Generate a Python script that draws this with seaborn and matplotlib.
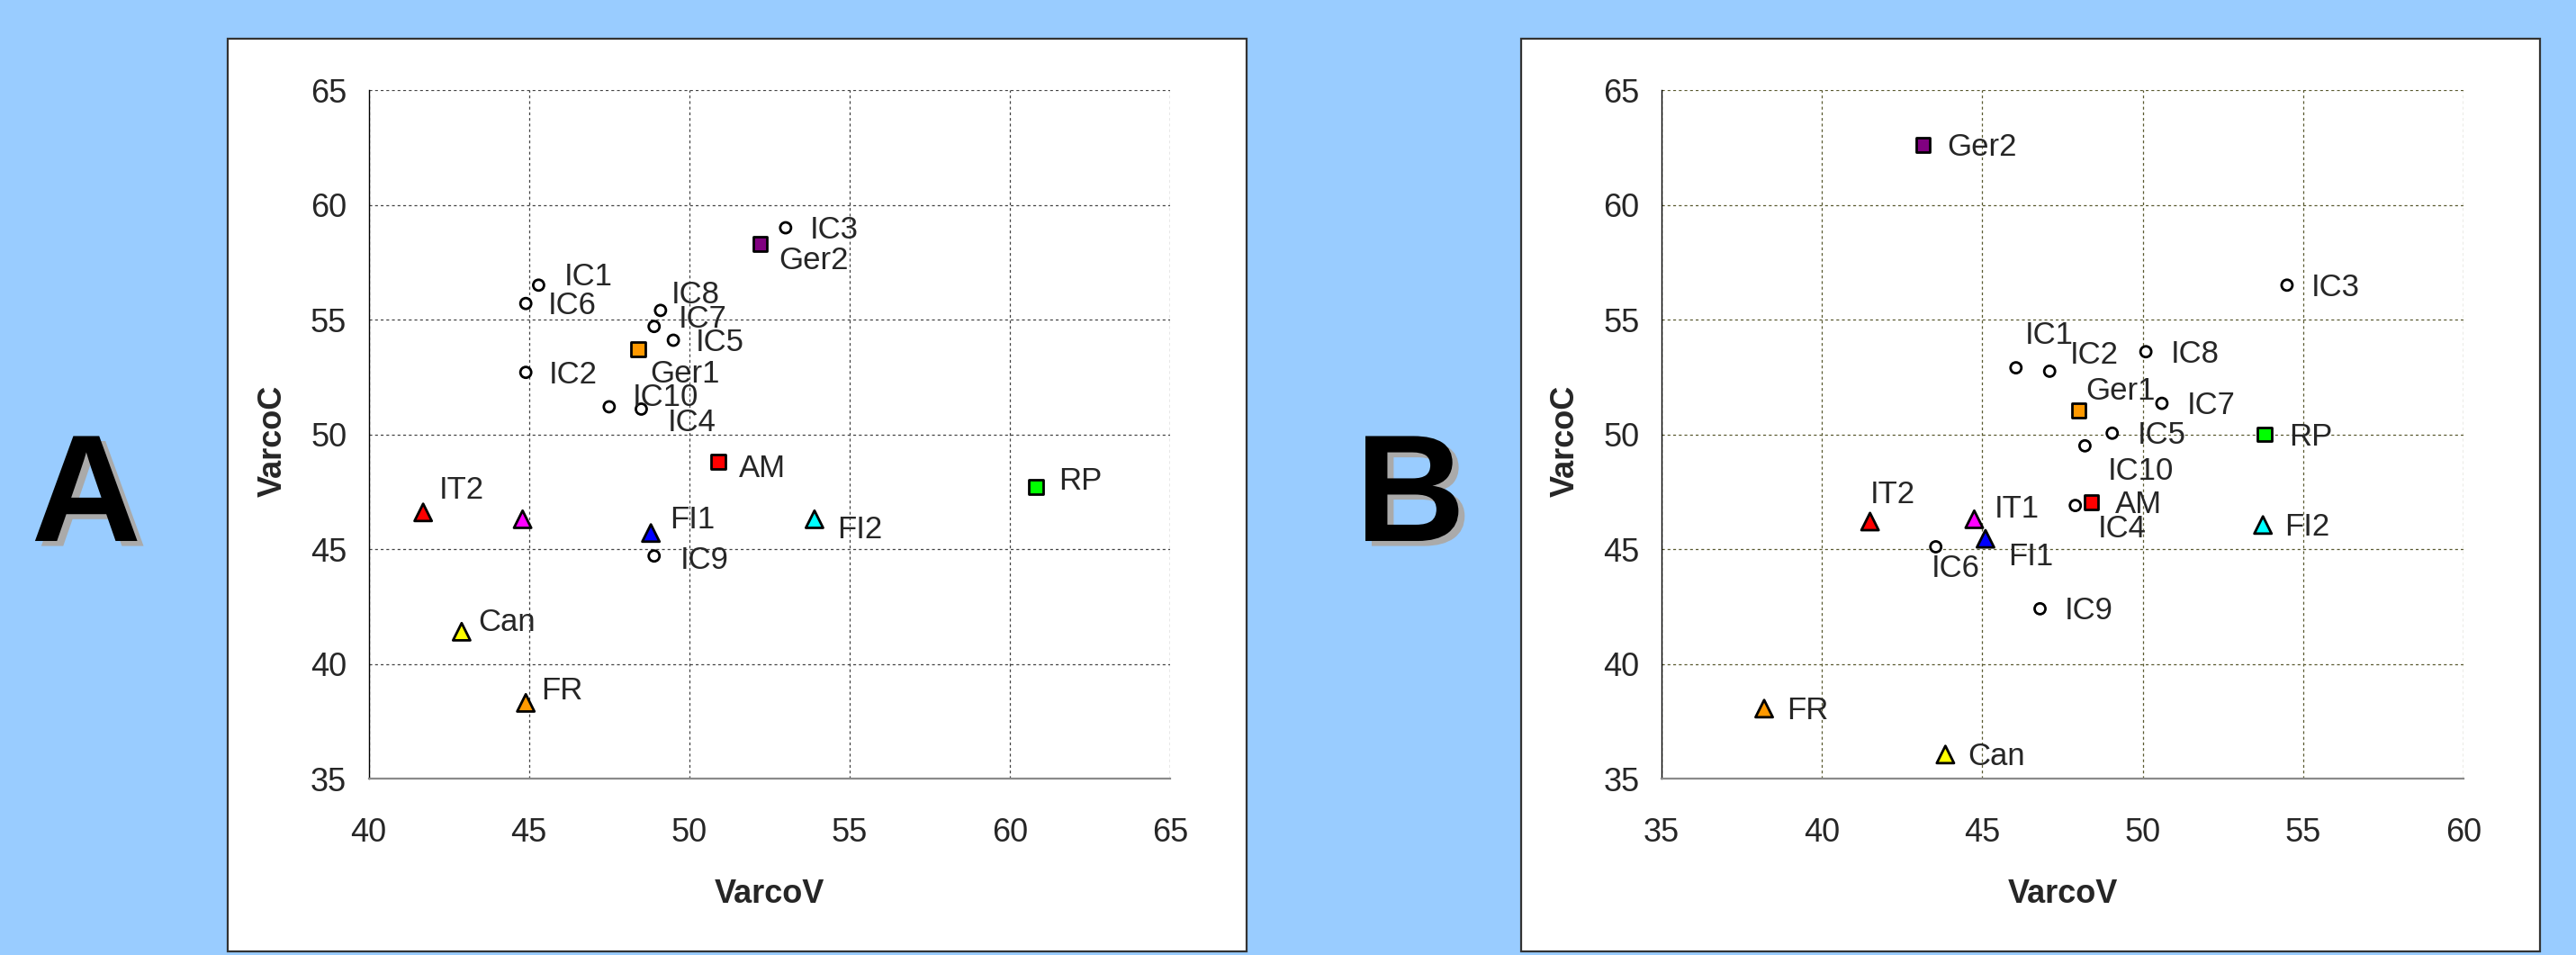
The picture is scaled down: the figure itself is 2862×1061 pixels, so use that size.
import matplotlib
matplotlib.use("Agg")
import matplotlib.pyplot as plt
import matplotlib.patheffects as pe
from matplotlib import font_manager
from matplotlib.patches import Rectangle
import pandas as pd
import seaborn as sns

# ---- data ----
labels = ["IC1", "IC2", "IC3", "IC4", "IC5", "IC6", "IC7", "IC8", "IC9", "IC10",
          "Ger1", "Ger2", "AM", "RP", "IT1", "IT2", "FI1", "FI2", "Can", "FR"]

varcov_a = [45.3, 44.9, 53.0, 48.5, 49.5, 44.9, 48.9, 49.1, 48.9, 47.5,
            48.4, 52.2, 50.9, 60.8, 44.8, 41.7, 48.8, 53.9, 42.9, 44.9]
varcoc_a = [56.5, 52.7, 59.0, 51.1, 54.1, 55.7, 54.7, 55.4, 44.7, 51.2,
            53.7, 58.3, 48.8, 47.7, 46.3, 46.6, 45.7, 46.3, 41.4, 38.3]

varcov_b = [46.05, 47.1, 54.5, 47.9, 49.05, 43.55, 50.6, 50.1, 46.8, 48.2,
            48.0, 43.15, 48.4, 53.8, 44.75, 41.5, 45.1, 53.75, 43.85, 38.2]
varcoc_b = [52.9, 52.75, 56.5, 46.9, 50.05, 45.1, 51.35, 53.6, 42.4, 49.5,
            51.05, 62.6, 47.05, 50.0, 46.3, 46.2, 45.45, 46.05, 36.05, 38.05]

x_ticks_a = [40, 45, 50, 55, 60, 65]
x_ticks_b = [35, 40, 45, 50, 55, 60]
y_ticks = [35, 40, 45, 50, 55, 60, 65]

# ---- styling ----
colors = {"Ger1": "#FF9900", "Ger2": "#800080", "AM": "#FF0000", "RP": "#00FF00",
          "IT1": "#FF00FF", "IT2": "#FF0000", "FI1": "#0000FF", "FI2": "#00FFFF",
          "Can": "#FFFF00", "FR": "#FF9900"}
for l in labels:
    colors.setdefault(l, "#FFFFFF")


def shape_of(l):
    if l.startswith("IC"):
        return "circle"
    if l in ("Ger1", "Ger2", "AM", "RP"):
        return "square"
    return "triangle"


markers = {"circle": "o", "square": "s", "triangle": "^"}
sizes = {"circle": 75, "square": 125, "triangle": 190}

# label offsets in pixels (dx, dy) from the marker centre
offs_a = {"IC3": (27, 0), "Ger2": (21, -16), "IC1": (28, 12), "IC6": (25, 0),
          "IC8": (12, 20), "IC7": (27, 11), "IC5": (25, 0), "Ger1": (13, -25),
          "IC2": (26, 0), "IC10": (26, 13), "IC4": (29, -13), "AM": (23, -5),
          "RP": (25, 9), "IT2": (18, 27), "FI1": (21, 17), "FI2": (25, -9),
          "IC9": (29, -2), "Can": (18, 13), "FR": (17, 16)}
offs_b = {"Ger2": (27, 0), "IC3": (27, 0), "IC1": (10, 39), "IC2": (23, 20),
          "IC8": (28, 0), "Ger1": (8, 24), "IC7": (28, 0), "IC5": (28, 0),
          "IC10": (25, -26), "RP": (27, 0), "AM": (26, 0), "IC4": (25, -23),
          "IT2": (0, 32), "IT1": (22, 14), "FI1": (25, -17), "IC6": (-5, -22),
          "FI2": (24, 0), "IC9": (27, 0), "FR": (25, 0), "Can": (25, 0)}

installed = {f.name for f in font_manager.fontManager.ttflist}
narrow = ["Liberation Sans Narrow", "Liberation Sans"] if "Liberation Sans Narrow" in installed \
    else ["Liberation Sans"]

sns.set_style("white")
plt.rcParams["font.family"] = ["Liberation Sans", "DejaVu Sans"]

fig = plt.figure(figsize=(28.62, 10.61), dpi=100, facecolor="#99CCFF")

# white panels behind the charts
for x0 in (0.0884, 0.5905):
    fig.patches.append(Rectangle((x0, 0.004), 0.3955, 0.9555, transform=fig.transFigure,
                                 facecolor="white", edgecolor="#333333", linewidth=1.6,
                                 zorder=-5))

# big panel letters
for xl, letter in ((0.0335, "A"), (0.5475, "B")):
    fig.text(xl, 0.475, letter, fontsize=122, fontweight="bold", color="black",
             ha="center", va="center", family="Liberation Sans",
             path_effects=[pe.SimplePatchShadow(offset=(5, -4), shadow_rgbFace="#AAAAAA", alpha=1),
                           pe.Normal()])


def panel(rect, vv, cc, xticks, offs, hidden, gridcol):
    ax = fig.add_axes(rect)
    ax.set_zorder(2)
    ax.set_facecolor("white")
    df = pd.DataFrame({"VarcoV": vv, "VarcoC": cc, "label": labels})
    df["shape"] = df["label"].map(shape_of)
    sns.scatterplot(data=df, x="VarcoV", y="VarcoC", hue="label", palette=colors,
                    style="shape", markers=markers, size="shape", sizes=sizes,
                    edgecolor="black", linewidth=2, legend=False, ax=ax, zorder=3,
                    clip_on=False)
    for l, x, y in zip(labels, vv, cc):
        if l in hidden:
            continue
        dx, dy = offs[l]
        ax.annotate(l, (x, y), xytext=(dx, dy - 12), textcoords="offset pixels",
                    ha="left", va="baseline", fontsize=25, family=narrow, zorder=4)
    ax.set_xlim(xticks[0], xticks[-1])
    ax.set_ylim(35, 65)
    ax.set_xticks(xticks)
    ax.set_yticks(y_ticks)
    ax.grid(True, color=gridcol, linestyle=(0, (2.5, 2.5)), linewidth=0.9)
    for s in ("top", "right"):
        ax.spines[s].set_visible(False)
    ax.spines["left"].set_color("black")
    ax.spines["left"].set_linewidth(1.0)
    ax.spines["bottom"].set_color("#8A8A8A")
    ax.spines["bottom"].set_linewidth(1.6)
    ax.tick_params(axis="x", direction="inout", length=18, width=1, pad=22,
                   labelsize=26, color="black")
    ax.tick_params(axis="y", direction="inout", length=15, width=1, pad=10,
                   labelsize=26, color="#333333")
    for t in ax.get_xticklabels() + ax.get_yticklabels():
        t.set_family(narrow)
    ax.set_xlabel("VarcoV", fontsize=26, fontweight="bold")
    ax.set_ylabel("VarcoC", fontsize=26, fontweight="bold")
    ax.xaxis.set_label_coords(0.5, -0.145)
    ax.yaxis.set_label_coords(-0.10, 0.49)
    return ax


panel([0.1431, 0.1847, 0.3113, 0.721], varcov_a, varcoc_a, x_ticks_a, offs_a,
      {"IT1"}, "#444444")
panel([0.6450, 0.1847, 0.3113, 0.721], varcov_b, varcoc_b, x_ticks_b, offs_b,
      set(), "#5A5A30")

fig.savefig("out.png", dpi=100, facecolor=fig.get_facecolor())
